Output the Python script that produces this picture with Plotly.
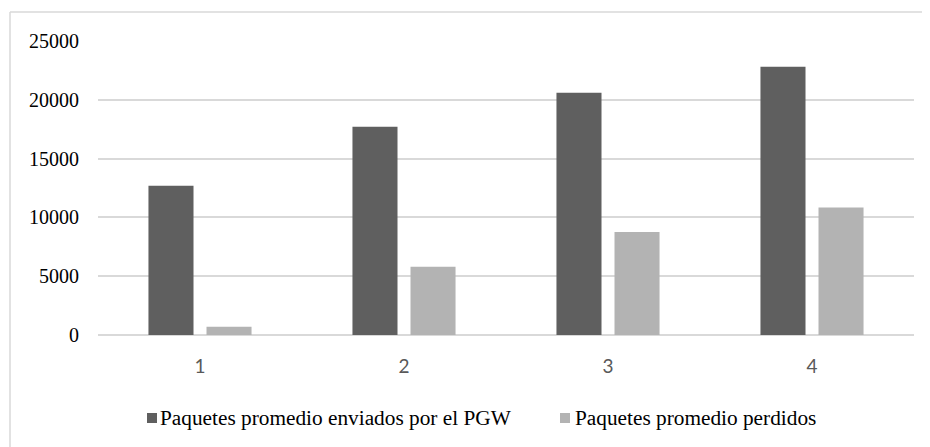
import plotly.graph_objects as go

categories = ["1", "2", "3", "4"]
enviados = [12700, 17700, 20600, 22800]
perdidos = [700, 5800, 8750, 10850]
series_names = ["Paquetes promedio enviados por el PGW", "Paquetes promedio perdidos"]
series_colors = ["#5f5f5f", "#b3b3b3"]
y_ticks = [0, 5000, 10000, 15000, 20000, 25000]
y_tick_labels = ["0", "5000", "10000", "15000", "20000", "25000"]

SERIF = "Liberation Serif, Times New Roman, serif"

fig = go.Figure()
for vals, name, col in zip([enviados, perdidos], series_names, series_colors):
    fig.add_trace(go.Bar(x=categories, y=vals, name=name,
                         marker=dict(color=col, line=dict(width=0))))

# page offset of 8px (body margin) compensated
OFF = 8
W, H = 914, 439
L, T = 90, 33
R = W - 906
B = H - 327
pw, ph = W - L - R, H - T - B


def px_x(p):
    return (p - OFF - L) / pw


def px_y(p):
    return (T + ph - (p - OFF)) / ph


border = "#d9d9d9"
shapes = [
    dict(type="line", xref="paper", yref="paper",
         x0=px_x(10), x1=px_x(940), y0=px_y(12), y1=px_y(12),
         line=dict(color=border, width=1.5), layer="below"),
    dict(type="line", xref="paper", yref="paper",
         x0=px_x(10), x1=px_x(10), y0=px_y(12), y1=px_y(460),
         line=dict(color=border, width=1.5), layer="below"),
]
annotations = []
legend_marker_x = [147, 560]
legend_text_x = [158, 573]
ly = 418
for name, col, mx, tx in zip(series_names, series_colors, legend_marker_x, legend_text_x):
    shapes.append(dict(type="rect", xref="paper", yref="paper",
                       x0=px_x(mx), x1=px_x(mx + 10), y0=px_y(ly + 5), y1=px_y(ly - 5),
                       line=dict(width=0), fillcolor=col))
    annotations.append(dict(text=name, xref="paper", yref="paper", x=px_x(tx), y=px_y(ly),
                            xanchor="left", yanchor="middle", showarrow=False,
                            font=dict(family=SERIF, size=21.3, color="#000000")))

fig.update_layout(
    width=W, height=H,
    margin=dict(l=L, r=R, t=T, b=B, autoexpand=False),
    paper_bgcolor="white", plot_bgcolor="white",
    font=dict(family=SERIF),
    barmode="group", bargap=0.431, bargroupgap=0.224,
    showlegend=False,
    xaxis=dict(type="category", showgrid=False, showline=False, ticks="",
               tickfont=dict(family="Lato", size=19, color="#595959"),
               ticklabelstandoff=18),
    yaxis=dict(range=[0, 25000], tickvals=y_ticks, ticktext=y_tick_labels, showgrid=True,
               gridcolor="#d9d9d9", gridwidth=1.5, zeroline=True,
               zerolinecolor="#d9d9d9", zerolinewidth=1.5, showline=False, ticks="",
               tickfont=dict(family=SERIF, size=20, color="#000000"),
               ticklabelstandoff=18),
    shapes=shapes,
    annotations=annotations,
)

fig.write_html("out.html")
